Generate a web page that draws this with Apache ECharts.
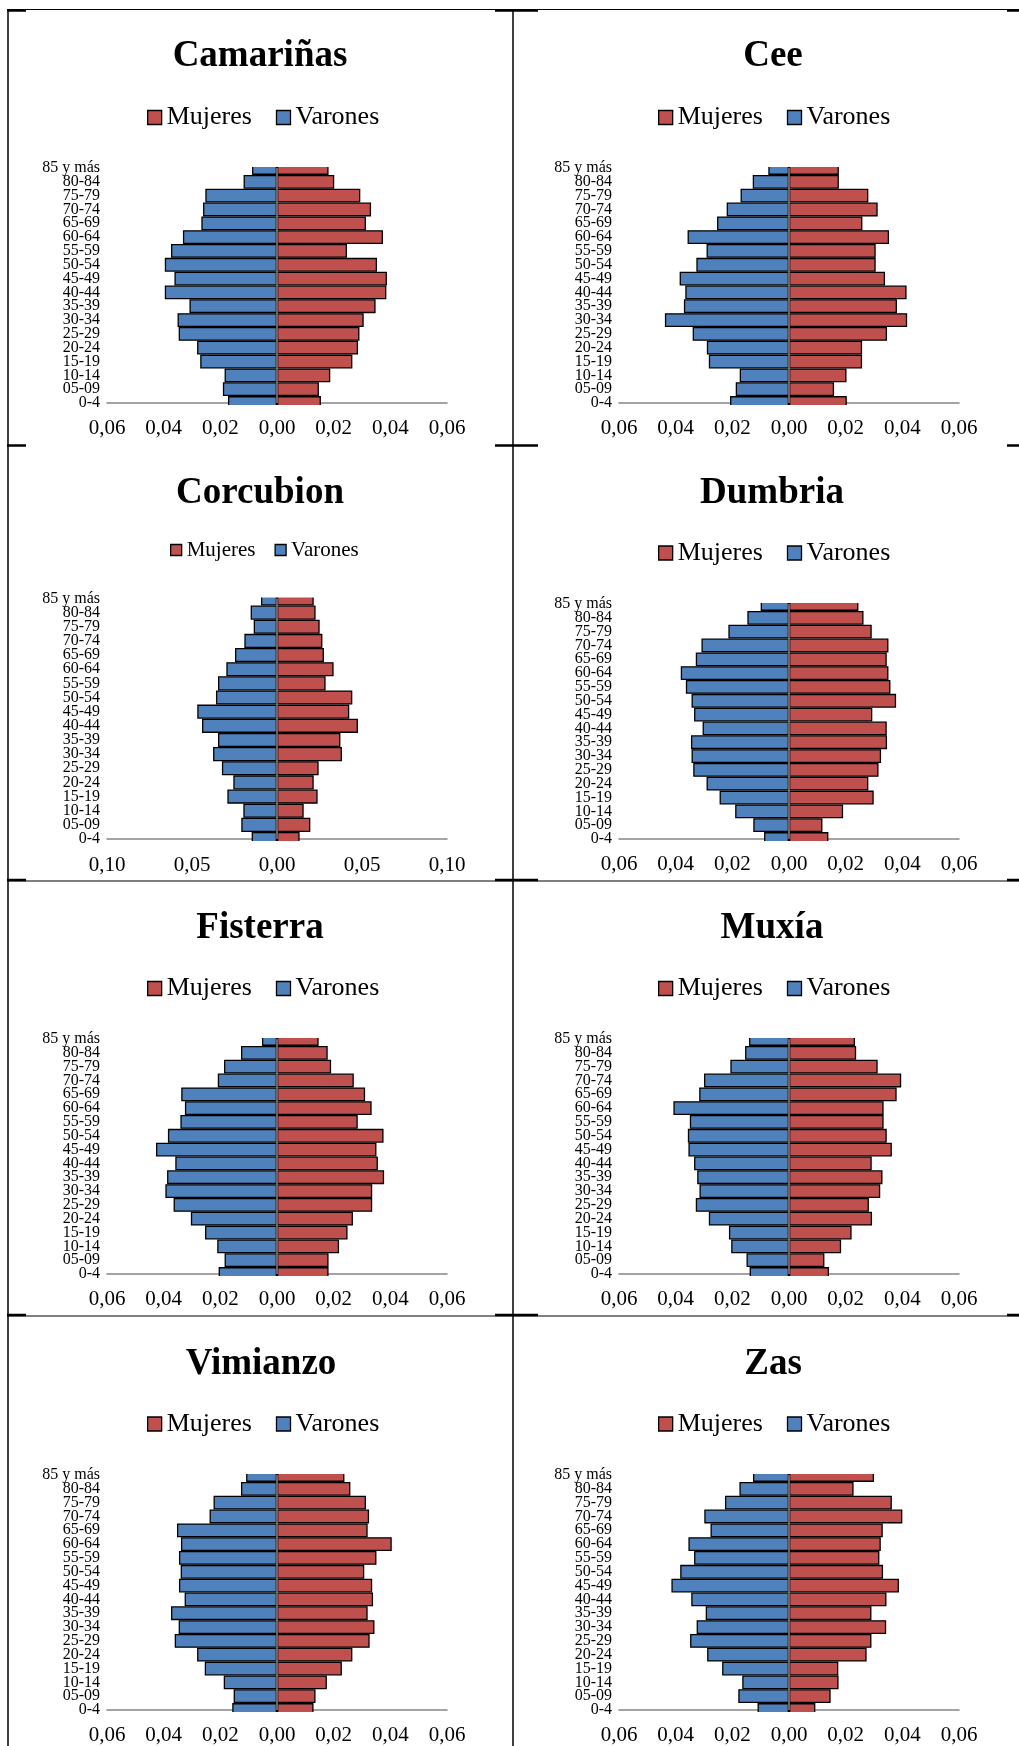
<!DOCTYPE html>
<html lang="es">
<head>
<meta charset="utf-8">
<title>Pirámides de población</title>
<script src="https://cdn.jsdelivr.net/npm/echarts@6/dist/echarts.min.js"></script>
<style>
  html, body { margin: 0; padding: 0; background: #fff; }
  #chart { width: 1019px; height: 1746px; }
</style>
</head>
<body>
<div id="chart"></div>
<script>
// Age groups, listed from the top of each pyramid down to the base
const AGE_GROUPS = ['85 y más', '80-84', '75-79', '70-74', '65-69', '60-64', '55-59', '50-54', '45-49',
  '40-44', '35-39', '30-34', '25-29', '20-24', '15-19', '10-14', '05-09', '0-4'];

const SERIES_NAMES = ['Mujeres', 'Varones'];

// Share of population per age group (same order as AGE_GROUPS)
const camarinasMujeres = [0.0182, 0.0202, 0.0294, 0.0332, 0.0314, 0.0374, 0.0247, 0.0353, 0.0388, 0.0386, 0.0348, 0.0306, 0.0291, 0.0286, 0.0266, 0.0188, 0.0148, 0.0155];
const camarinasVarones = [0.0088, 0.0118, 0.0253, 0.0261, 0.0267, 0.0332, 0.0374, 0.0396, 0.0362, 0.0396, 0.0309, 0.0351, 0.0347, 0.0282, 0.0271, 0.0185, 0.0191, 0.0173];

const ceeMujeres = [0.0176, 0.0176, 0.0280, 0.0313, 0.0259, 0.0353, 0.0306, 0.0306, 0.0339, 0.0415, 0.0381, 0.0417, 0.0346, 0.0258, 0.0258, 0.0203, 0.0159, 0.0204];
const ceeVarones = [0.0073, 0.0128, 0.0171, 0.0220, 0.0254, 0.0358, 0.0291, 0.0327, 0.0386, 0.0366, 0.0371, 0.0438, 0.0340, 0.0290, 0.0283, 0.0174, 0.0188, 0.0208];

const corcubionMujeres = [0.0216, 0.0227, 0.0251, 0.0267, 0.0276, 0.0333, 0.0286, 0.0443, 0.0425, 0.0476, 0.0373, 0.0382, 0.0245, 0.0216, 0.0239, 0.0157, 0.0196, 0.0133];
const corcubionVarones = [0.0094, 0.0155, 0.0137, 0.0192, 0.0247, 0.0298, 0.0347, 0.0359, 0.0469, 0.0441, 0.0347, 0.0376, 0.0324, 0.0257, 0.0292, 0.0198, 0.0210, 0.0149];

const dumbriaMujeres = [0.0245, 0.0263, 0.0292, 0.0351, 0.0345, 0.0351, 0.0358, 0.0378, 0.0294, 0.0345, 0.0346, 0.0325, 0.0316, 0.0280, 0.0299, 0.0191, 0.0118, 0.0139];
const dumbriaVarones = [0.0100, 0.0147, 0.0214, 0.0309, 0.0329, 0.0382, 0.0364, 0.0344, 0.0335, 0.0305, 0.0346, 0.0344, 0.0338, 0.0291, 0.0245, 0.0190, 0.0126, 0.0088];

const fisterraMujeres = [0.0147, 0.0179, 0.0191, 0.0271, 0.0311, 0.0334, 0.0285, 0.0376, 0.0351, 0.0356, 0.0378, 0.0336, 0.0336, 0.0268, 0.0249, 0.0219, 0.0182, 0.0182];
const fisterraVarones = [0.0053, 0.0127, 0.0187, 0.0209, 0.0338, 0.0325, 0.0341, 0.0385, 0.0427, 0.0359, 0.0388, 0.0394, 0.0365, 0.0304, 0.0254, 0.0211, 0.0185, 0.0206];

const muxiaMujeres = [0.0233, 0.0237, 0.0313, 0.0396, 0.0380, 0.0334, 0.0334, 0.0345, 0.0363, 0.0292, 0.0330, 0.0322, 0.0282, 0.0293, 0.0221, 0.0184, 0.0125, 0.0141];
const muxiaVarones = [0.0141, 0.0155, 0.0207, 0.0300, 0.0317, 0.0408, 0.0350, 0.0357, 0.0355, 0.0335, 0.0324, 0.0316, 0.0329, 0.0283, 0.0212, 0.0204, 0.0150, 0.0139];

const vimianzoMujeres = [0.0238, 0.0259, 0.0314, 0.0325, 0.0320, 0.0405, 0.0351, 0.0308, 0.0336, 0.0339, 0.0320, 0.0344, 0.0327, 0.0266, 0.0229, 0.0176, 0.0136, 0.0129];
const vimianzoVarones = [0.0109, 0.0127, 0.0224, 0.0238, 0.0353, 0.0339, 0.0346, 0.0340, 0.0346, 0.0326, 0.0374, 0.0347, 0.0361, 0.0282, 0.0255, 0.0188, 0.0153, 0.0158];

const zasMujeres = [0.0300, 0.0228, 0.0363, 0.0400, 0.0331, 0.0324, 0.0319, 0.0332, 0.0388, 0.0344, 0.0291, 0.0343, 0.0291, 0.0274, 0.0174, 0.0175, 0.0147, 0.0093];
const zasVarones = [0.0127, 0.0175, 0.0226, 0.0299, 0.0277, 0.0355, 0.0335, 0.0384, 0.0415, 0.0345, 0.0294, 0.0326, 0.0349, 0.0289, 0.0236, 0.0165, 0.0179, 0.0111];

// Layout of each cell of the 2 x 4 table
const FONT = "'Times New Roman', 'Liberation Serif', serif";
const RED = '#C0504D';
const BLUE = '#4F81BD';
const AXIS_GRAY = '#878787';

const base = { gridH: 235, range: 0.06, step: 0.02, legendFont: 26, legendIcon: 14, legendGap: 24, labelMargin: 15 };
const panels = [
  Object.assign({}, base, { title: 'Camariñas', mujeres: camarinasMujeres, varones: camarinasVarones,
    gridLeft: 107, gridTop: 168, titleX: 260, titleY: 56, legendLeft: 147, legendY: 117.5 }),
  Object.assign({}, base, { title: 'Cee', mujeres: ceeMujeres, varones: ceeVarones,
    gridLeft: 619, gridTop: 168, titleX: 773, titleY: 56, legendLeft: 658, legendY: 117.5 }),
  Object.assign({}, base, { title: 'Corcubion', mujeres: corcubionMujeres, varones: corcubionVarones,
    gridLeft: 107, gridTop: 598.5, gridH: 240.5, range: 0.10, step: 0.05, titleX: 260, titleY: 493.5,
    legendLeft: 170, legendY: 550, legendFont: 21, legendIcon: 11, legendGap: 19, labelMargin: 16 }),
  Object.assign({}, base, { title: 'Dumbria', mujeres: dumbriaMujeres, varones: dumbriaVarones,
    gridLeft: 619, gridTop: 604, titleX: 772, titleY: 493.5, legendLeft: 658, legendY: 553 }),
  Object.assign({}, base, { title: 'Fisterra', mujeres: fisterraMujeres, varones: fisterraVarones,
    gridLeft: 107, gridTop: 1039, titleX: 260, titleY: 928, legendLeft: 147, legendY: 988.5 }),
  Object.assign({}, base, { title: 'Muxía', mujeres: muxiaMujeres, varones: muxiaVarones,
    gridLeft: 619, gridTop: 1039, titleX: 772, titleY: 928, legendLeft: 658, legendY: 988.5 }),
  Object.assign({}, base, { title: 'Vimianzo', mujeres: vimianzoMujeres, varones: vimianzoVarones,
    gridLeft: 107, gridTop: 1475, titleX: 261, titleY: 1364, legendLeft: 147, legendY: 1424 }),
  Object.assign({}, base, { title: 'Zas', mujeres: zasMujeres, varones: zasVarones,
    gridLeft: 619, gridTop: 1475, titleX: 773, titleY: 1364, legendLeft: 658, legendY: 1424 })
];

const GRID_W = 340;

const grids = [], xAxes = [], yAxes = [], series = [], legends = [], graphics = [];

panels.forEach(function (p, i) {
  grids.push({ left: p.gridLeft, top: p.gridTop, width: GRID_W, height: p.gridH,
    containLabel: false, outerBoundsMode: 'none' });

  xAxes.push({
    type: 'value', gridIndex: i, min: -p.range, max: p.range, interval: p.step,
    axisLine: { show: true, onZero: false, lineStyle: { color: AXIS_GRAY, width: 1.5 } },
    axisTick: { show: false },
    splitLine: { show: false },
    axisLabel: {
      margin: p.labelMargin, color: '#000', fontSize: 21, fontFamily: FONT,
      formatter: function (v) { return Math.abs(v).toFixed(2).replace('.', ','); }
    }
  });

  yAxes.push({
    type: 'category', gridIndex: i, data: AGE_GROUPS, inverse: true, boundaryGap: false,
    axisLine: { show: false, onZero: false },
    axisTick: { show: false },
    splitLine: { show: false },
    axisLabel: { interval: 0, margin: 7, color: '#000', fontSize: 16, fontFamily: FONT }
  });

  const barCommon = {
    type: 'bar', xAxisIndex: i, yAxisIndex: i, barCategoryGap: '0%', barGap: '-100%',
    clip: true, animation: false
  };

  series.push(Object.assign({}, barCommon, {
    name: SERIES_NAMES[0], data: p.mujeres,
    itemStyle: { color: RED, borderColor: '#000', borderWidth: 1.3 },
    markLine: {
      silent: true, symbol: 'none', animation: false, z: 12,
      label: { show: false },
      lineStyle: { color: AXIS_GRAY, width: 1.5, type: 'solid' },
      data: [{ xAxis: 0 }]
    }
  }));
  series.push(Object.assign({}, barCommon, {
    name: SERIES_NAMES[1], data: p.varones.map(function (v) { return -v; }),
    itemStyle: { color: BLUE, borderColor: '#000', borderWidth: 1.3 }
  }));

  legends.push({
    data: SERIES_NAMES, orient: 'horizontal', left: p.legendLeft,
    top: p.legendY - p.legendFont / 2, padding: 0,
    itemWidth: p.legendIcon, itemHeight: p.legendIcon, itemGap: p.legendGap,
    icon: 'rect', selectedMode: false,
    itemStyle: { borderColor: '#000', borderWidth: 1.3 },
    textStyle: { color: '#000', fontSize: p.legendFont, fontFamily: FONT }
  });

  graphics.push({
    type: 'text', x: p.titleX, y: p.titleY, silent: true,
    style: {
      text: p.title, font: 'bold 37px ' + FONT, fill: '#000',
      align: 'center', verticalAlign: 'middle',
      textAlign: 'center', textVerticalAlign: 'middle'
    }
  });

  // The plot area crops the outermost bars at its top edge and just under the base line
  const bottom = p.gridTop + p.gridH;
  graphics.push({
    type: 'rect', silent: true, z: 10,
    shape: { x: p.gridLeft - 4, y: p.gridTop - 14, width: GRID_W + 8, height: 13 },
    style: { fill: '#fff' }
  });
  graphics.push({
    type: 'rect', silent: true, z: 10,
    shape: { x: p.gridLeft - 4, y: bottom + 2, width: GRID_W + 8, height: 10 },
    style: { fill: '#fff' }
  });
});

// Table rules around the cells
function rule(x1, y1, x2, y2, w) {
  graphics.push({ type: 'line', silent: true, z: 100,
    shape: { x1: x1, y1: y1, x2: x2, y2: y2 },
    style: { stroke: '#000', lineWidth: w } });
}
rule(7, 9.5, 1019, 9.5, 1);
rule(8, 9, 8, 1746, 1.5);
rule(513, 9, 513, 1746, 1.5);
rule(7, 881, 1019, 881, 1.2);
rule(7, 1316, 1019, 1316, 1.2);
[10.5, 445.5, 880, 1315].forEach(function (y) {
  rule(7, y, 26, y, 2.5);
  rule(495, y, 538, y, 2.5);
  rule(1007, y, 1019, y, 2.5);
});

const chart = echarts.init(document.getElementById('chart'), null, { renderer: 'canvas' });
chart.setOption({
  animation: false,
  backgroundColor: '#ffffff',
  grid: grids,
  xAxis: xAxes,
  yAxis: yAxes,
  legend: legends,
  series: series,
  graphic: { elements: graphics }
});
</script>
</body>
</html>
